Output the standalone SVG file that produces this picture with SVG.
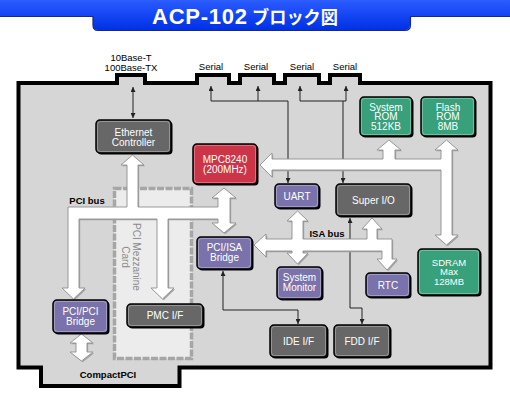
<svg xmlns="http://www.w3.org/2000/svg" width="510" height="400" viewBox="0 0 510 400">
<defs>
<linearGradient id="hdr" x1="0" y1="0" x2="0" y2="1">
<stop offset="0" stop-color="#2a5cff"/>
<stop offset="1" stop-color="#0030e6"/>
</linearGradient>
<marker id="ah" viewBox="0 0 6 6" refX="6" refY="3" markerWidth="5" markerHeight="5" markerUnits="userSpaceOnUse" orient="auto-start-reverse">
<path d="M0,0 L6,3 L0,6 Z" fill="#222"/>
</marker>
<style>
.lbl{font-family:"Liberation Sans",Arial,sans-serif;font-size:9.5px;fill:#000;text-anchor:middle}
.b{font-weight:bold}
.nt{font-family:"Liberation Sans",Arial,sans-serif;font-size:10px;fill:#fff;text-anchor:middle}
.sm{font-size:9.5px}
.sh{fill:#000}
.bx{stroke:#000;stroke-width:1.5}
.hl{fill:none;stroke:#fff;stroke-opacity:0.3;stroke-width:1}
.dark{fill:#676767}
.red{fill:#cc3447}
.pur{fill:#7a72aa}
.grn{fill:#38a07a}
.thin{fill:none;stroke:#222;stroke-width:1}
.bus{fill:#fff;stroke:#8e8e8e;stroke-width:0.9;stroke-linejoin:miter}
.bsh{fill:#a4a4a4}
</style>
</defs>

<!-- header -->
<g id="header">
<path d="M0,0 H510 V16 H410 V25 Q410,30 405,30 H98 Q93,30 93,25 V16 H0 Z" fill="url(#hdr)"/>
<path d="M0,16.5 H93 V25 Q93,30.5 98,30.5 H405 Q410.5,30.5 410.5,25 V16.5 H510" fill="none" stroke="#1a2a7a" stroke-width="1.2"/>
<text x="152" y="24" font-family="'Liberation Sans',Arial,sans-serif" font-size="22" font-weight="bold" fill="#fff" textLength="95" lengthAdjust="spacing">ACP-102</text>
<text x="252" y="24" font-family="'Noto Sans CJK JP',sans-serif" font-size="18" font-weight="bold" fill="#fff" textLength="86" lengthAdjust="spacingAndGlyphs">ブロック図</text>
</g>

<!-- board -->
<g id="board">
<path d="M18.5,83 H117 V75 H145 V83 H197 V75 H229 V83 H240 V75 H274 V83 H285 V75 H319 V83 H330 V75 H360 V83 H490.5 V367.5 H179.5 V386 H41 V367.5 H18.5 Z" fill="#d6d6d6" stroke="#000" stroke-width="4" stroke-linejoin="miter"/>
</g>

<!-- PCI Mezzanine card -->
<g id="mezzanine">
<rect x="114.5" y="188.5" width="77" height="170" fill="#ececec" stroke="#a6a6a6" stroke-width="3.5" stroke-dasharray="7 1.5"/>
<text transform="translate(136,257) rotate(90)" font-family="'Liberation Sans',Arial,sans-serif" font-size="10" fill="#8a8a8a" text-anchor="middle" y="3.5">PCI Mezzanine</text>
<text transform="translate(125,257) rotate(90)" font-family="'Liberation Sans',Arial,sans-serif" font-size="10" fill="#8a8a8a" text-anchor="middle" y="3.5">Card</text>
</g>

<!-- external labels -->
<g id="labels">
<text class="lbl" x="131" y="61" font-size="9">10Base-T</text>
<text class="lbl" x="131" y="70.5">100Base-TX</text>
<text class="lbl" x="211" y="70">Serial</text>
<text class="lbl" x="256" y="70">Serial</text>
<text class="lbl" x="302" y="70">Serial</text>
<text class="lbl" x="345" y="70">Serial</text>
<text class="lbl b" x="87" y="204">PCI bus</text>
<text class="lbl b" x="327" y="237">ISA bus</text>
<text class="lbl b" x="108" y="378">CompactPCI</text>
</g>

<!-- connectors -->
<g id="connectors">
<path class="thin" d="M133,87 V118" marker-start="url(#ah)" marker-end="url(#ah)"/>
<path class="thin" d="M211,86 V101" marker-start="url(#ah)"/>
<path class="thin" d="M258,86 V101"  marker-start="url(#ah)"/>
<path class="thin" d="M211,101 H288 V183" marker-end="url(#ah)"/>
<path class="thin" d="M300,86 V101" marker-start="url(#ah)"/>
<path class="thin" d="M346,86 V101" marker-start="url(#ah)"/>
<path class="thin" d="M300,101 H346 M343,101 V183" marker-end="url(#ah)"/>
<path class="thin" d="M350,218 V308 H362 V324" marker-start="url(#ah)" marker-end="url(#ah)"/>
<path class="thin" d="M223,271 V310 H298 V324" marker-start="url(#ah)" marker-end="url(#ah)"/>

<g id="pci-bus">
<path class="bsh" transform="translate(1.2,1.2)" d="M68,207 H127 V165 H121 L132.5,155 L144,165 H138 V207 H218 V198 H212 L224,188 L236,198 H230 V223 H236 L224,233 L212,223 H218 V219 H168 V288 H174 L162.5,299 L151,288 H157 V219 H79 V288 H85 L73.5,299 L62,288 H68 Z"/>
<path class="bus" d="M68,207 H127 V165 H121 L132.5,155 L144,165 H138 V207 H218 V198 H212 L224,188 L236,198 H230 V223 H236 L224,233 L212,223 H218 V219 H168 V288 H174 L162.5,299 L151,288 H157 V219 H79 V288 H85 L73.5,299 L62,288 H68 Z"/>
</g>
<g id="mem-bus">
<path class="bsh" transform="translate(1.2,1.2)" d="M260,165 L272,153 V159 H383 V150 H377 L389,140 L401,150 H395 V159 H441 V150 H435 L446.5,140 L458,150 H452 V235 H458 L446.5,245 L435,235 H441 V170 H272 V177 Z"/>
<path class="bus" d="M260,165 L272,153 V159 H383 V150 H377 L389,140 L401,150 H395 V159 H441 V150 H435 L446.5,140 L458,150 H452 V235 H458 L446.5,245 L435,235 H441 V170 H272 V177 Z"/>
</g>
<g id="isa-bus">
<path class="bsh" transform="translate(1.2,1.2)" d="M254,245 L266,234 V239 H292 V221 H287 L297.5,211 L308,221 H303 V239 H367 V229 H362 L372,218 L382,229 H377 V239 H392 V259 H397 L387,270 L377,259 H382 V251 H303 V253 H308 L297.5,264 L287,253 H292 V251 H266 V257 Z"/>
<path class="bus" d="M254,245 L266,234 V239 H292 V221 H287 L297.5,211 L308,221 H303 V239 H367 V229 H362 L372,218 L382,229 H377 V239 H392 V259 H397 L387,270 L377,259 H382 V251 H303 V253 H308 L297.5,264 L287,253 H292 V251 H266 V257 Z"/>
</g>
<g id="cpci-link">
<path class="bsh" transform="translate(1.2,1.2)" d="M81.5,334 L93,343 H87 V352 H93 L81.5,361 L70,352 H76 V343 H70 Z"/>
<path class="bus" d="M81.5,334 L93,343 H87 V352 H93 L81.5,361 L70,352 H76 V343 H70 Z"/>
</g>
</g>

<!-- nodes -->
<g id="ethernet">
<rect class="sh" x="97.5" y="121.5" width="75" height="33" rx="4"/>
<rect class="bx dark" x="96" y="120" width="75" height="33" rx="4"/>
<rect class="hl" x="97.5" y="121.5" width="72" height="30" rx="3"/>
<text class="nt" x="133.5" y="135.5">Ethernet</text>
<text class="nt" x="133.5" y="145.5">Controller</text>
</g>
<g id="mpc8240">
<rect class="sh" x="194.5" y="145.5" width="64" height="40" rx="4"/>
<rect class="bx red" x="193" y="144" width="64" height="40" rx="4"/>
<rect class="hl" x="194.5" y="145.5" width="61" height="37" rx="3"/>
<text class="nt" x="225" y="162.5">MPC8240</text>
<text class="nt" x="225" y="172.5">(200MHz)</text>
</g>
<g id="sysrom">
<rect class="sh" x="361.5" y="98.5" width="52" height="39" rx="4"/>
<rect class="bx grn" x="360" y="97" width="52" height="39" rx="4"/>
<rect class="hl" x="361.5" y="98.5" width="49" height="36" rx="3"/>
<text class="nt" x="386" y="110.5">System</text>
<text class="nt" x="386" y="120">ROM</text>
<text class="nt" x="386" y="129.5">512KB</text>
</g>
<g id="flashrom">
<rect class="sh" x="422.5" y="98.5" width="54" height="39" rx="4"/>
<rect class="bx grn" x="421" y="97" width="54" height="39" rx="4"/>
<rect class="hl" x="422.5" y="98.5" width="51" height="36" rx="3"/>
<text class="nt" x="448" y="110.5">Flash</text>
<text class="nt" x="448" y="120">ROM</text>
<text class="nt" x="448" y="129.5">8MB</text>
</g>
<g id="uart">
<rect class="sh" x="276.5" y="185.5" width="44" height="24" rx="4"/>
<rect class="bx pur" x="275" y="184" width="44" height="24" rx="4"/>
<rect class="hl" x="276.5" y="185.5" width="41" height="21" rx="3"/>
<text class="nt" x="297" y="199.5">UART</text>
</g>
<g id="superio">
<rect class="sh" x="337.5" y="185.5" width="75" height="32" rx="4"/>
<rect class="bx dark" x="336" y="184" width="75" height="32" rx="4"/>
<rect class="hl" x="337.5" y="185.5" width="72" height="29" rx="3"/>
<text class="nt" x="373.5" y="203.5">Super I/O</text>
</g>
<g id="pciisa">
<rect class="sh" x="198.5" y="238.5" width="55" height="32" rx="4"/>
<rect class="bx pur" x="197" y="237" width="55" height="32" rx="4"/>
<rect class="hl" x="198.5" y="238.5" width="52" height="29" rx="3"/>
<text class="nt" x="224.5" y="251">PCI/ISA</text>
<text class="nt" x="224.5" y="261">Bridge</text>
</g>
<g id="sysmon">
<rect class="sh" x="278.5" y="268.5" width="45" height="32" rx="4"/>
<rect class="bx pur" x="277" y="267" width="45" height="32" rx="4"/>
<rect class="hl" x="278.5" y="268.5" width="42" height="29" rx="3"/>
<text class="nt" x="299.5" y="281">System</text>
<text class="nt" x="299.5" y="291">Monitor</text>
</g>
<g id="rtc">
<rect class="sh" x="367.5" y="274.5" width="44" height="24" rx="4"/>
<rect class="bx pur" x="366" y="273" width="44" height="24" rx="4"/>
<rect class="hl" x="367.5" y="274.5" width="41" height="21" rx="3"/>
<text class="nt" x="388" y="288.5">RTC</text>
</g>
<g id="sdram">
<rect class="sh" x="419.5" y="250.5" width="62" height="46" rx="4"/>
<rect class="bx grn" x="418" y="249" width="62" height="46" rx="4"/>
<rect class="hl" x="419.5" y="250.5" width="59" height="43" rx="3"/>
<text class="nt sm" x="449" y="265.5">SDRAM</text>
<text class="nt sm" x="449" y="275">Max</text>
<text class="nt sm" x="449" y="284.5">128MB</text>
</g>
<g id="pcipci">
<rect class="sh" x="54.5" y="301.5" width="55" height="33" rx="4"/>
<rect class="bx pur" x="53" y="300" width="55" height="33" rx="4"/>
<rect class="hl" x="54.5" y="301.5" width="52" height="30" rx="3"/>
<text class="nt" x="80.5" y="314.5">PCI/PCI</text>
<text class="nt" x="80.5" y="324.5">Bridge</text>
</g>
<g id="pmc">
<rect class="sh" x="128.5" y="305.5" width="76" height="23" rx="4"/>
<rect class="bx dark" x="127" y="304" width="76" height="23" rx="4"/>
<rect class="hl" x="128.5" y="305.5" width="73" height="20" rx="3"/>
<text class="nt" x="165" y="319">PMC I/F</text>
</g>
<g id="ide">
<rect class="sh" x="271.5" y="326.5" width="57" height="32" rx="4"/>
<rect class="bx dark" x="270" y="325" width="57" height="32" rx="4"/>
<rect class="hl" x="271.5" y="326.5" width="54" height="29" rx="3"/>
<text class="nt" x="298.5" y="344.5">IDE I/F</text>
</g>
<g id="fdd">
<rect class="sh" x="335.5" y="326.5" width="56" height="32" rx="4"/>
<rect class="bx dark" x="334" y="325" width="56" height="32" rx="4"/>
<rect class="hl" x="335.5" y="326.5" width="53" height="29" rx="3"/>
<text class="nt" x="362" y="344.5">FDD I/F</text>
</g>
</svg>
